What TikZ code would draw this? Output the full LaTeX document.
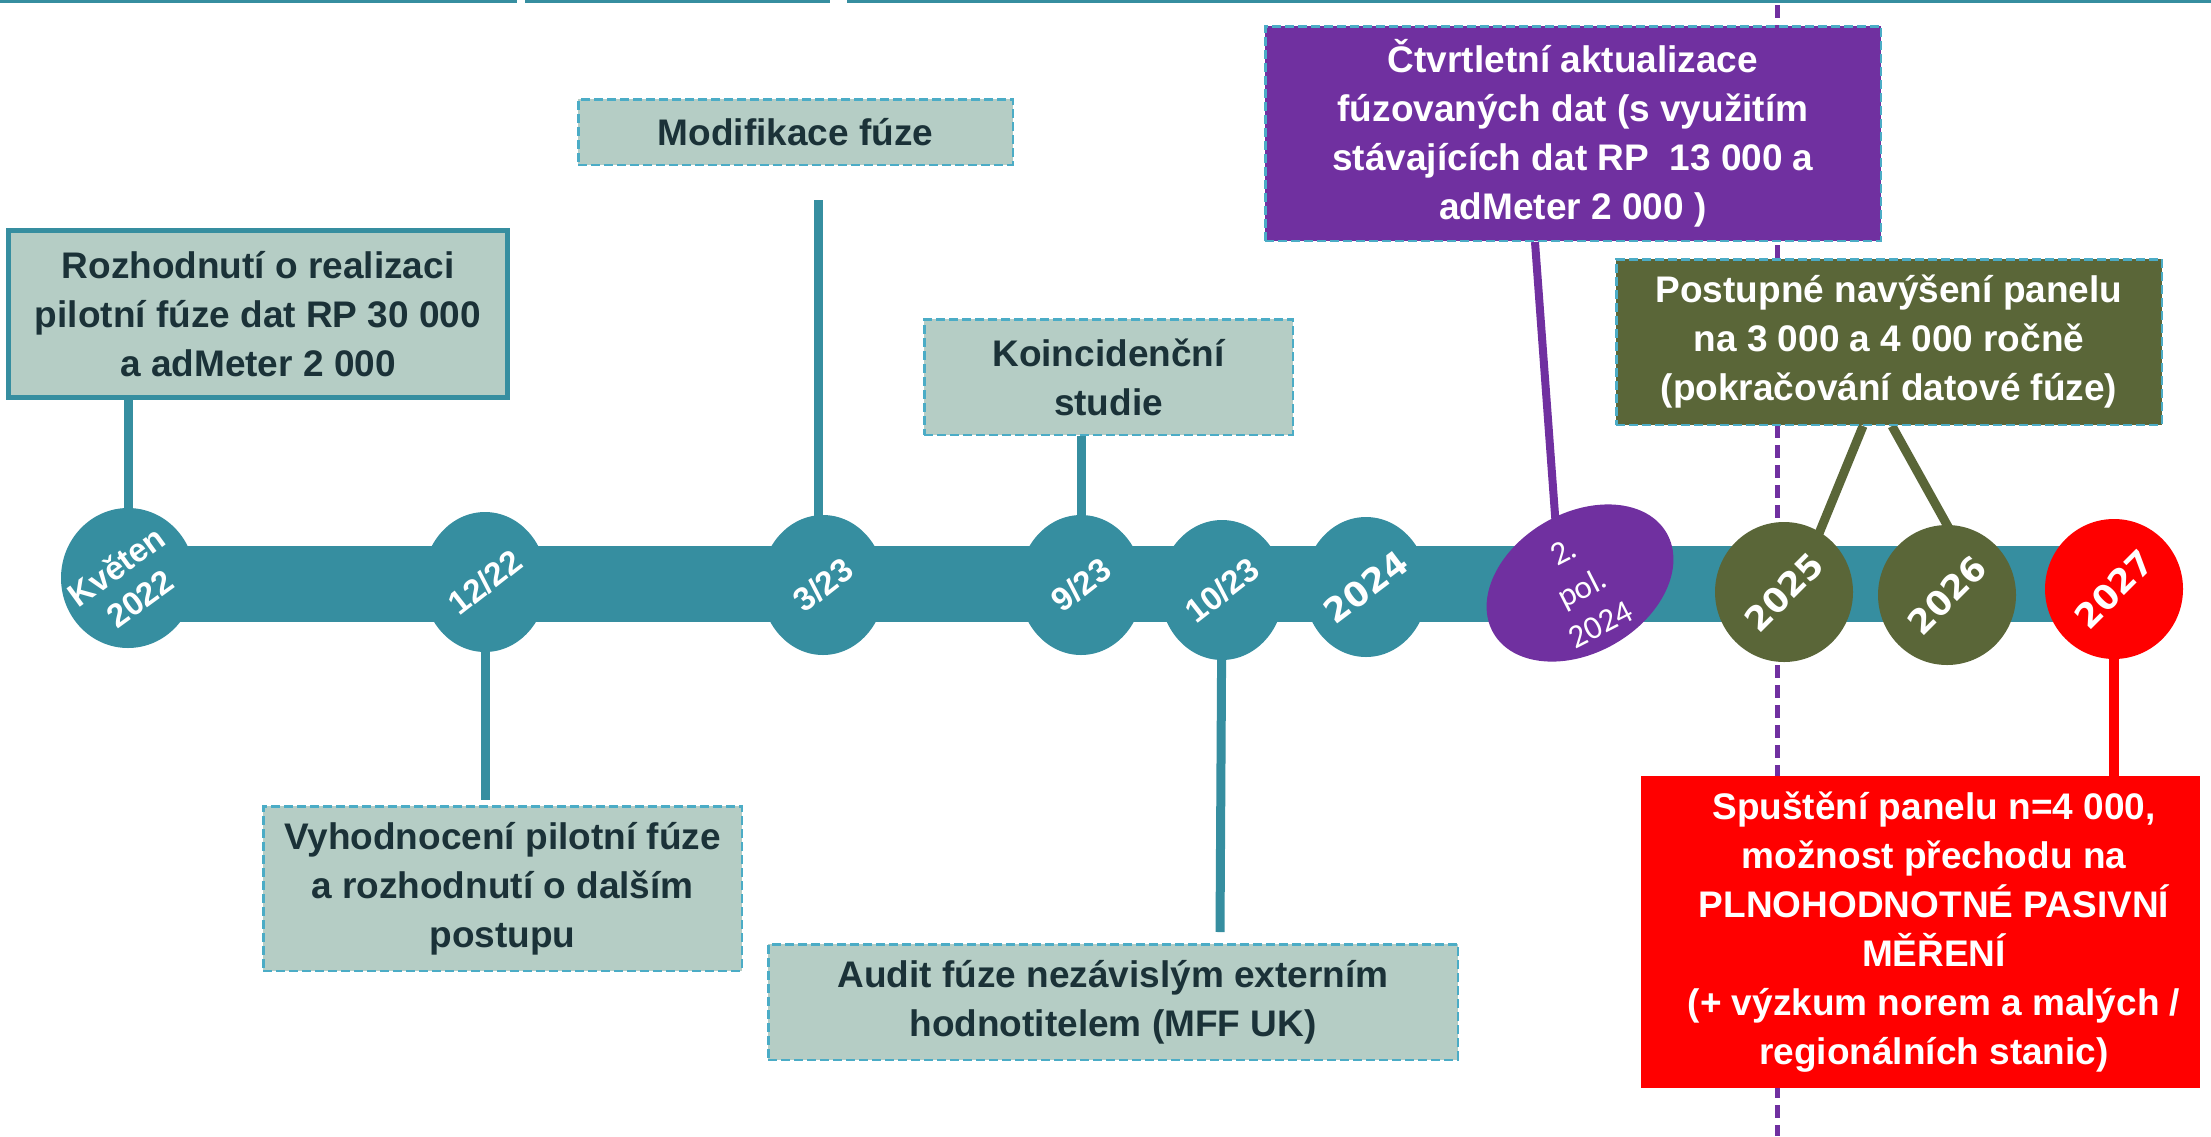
\documentclass[tikz,border=0pt]{standalone}
\usepackage{fontspec}
\setmainfont{Liberation Sans}
\newfontfamily\dvs{DejaVu Sans}
\newfontfamily\carl{Carlito}
\usetikzlibrary{shapes.geometric,calc}
\pgfdeclarelayer{bg}
\pgfsetlayers{bg,main}
\definecolor{mteal}{HTML}{368EA0}
\definecolor{boxfill}{HTML}{B5CDC5}
\definecolor{dtext}{HTML}{1B3238}
\definecolor{dashb}{HTML}{4BACC6}
\definecolor{mpurple}{HTML}{7030A0}
\definecolor{molive}{HTML}{5A6638}
\definecolor{mred}{HTML}{FF0000}
\tikzset{
  boxtext/.style={font=\fontsize{37}{49}\selectfont\bfseries, align=center, inner sep=0pt},
  dashbox/.style={boxtext, draw=dashb, line width=2.5pt, dash pattern=on 9pt off 4pt},
  lightbox/.style={dashbox, fill=boxfill, text=dtext},
  dot/.style={ellipse, inner sep=0pt, minimum height=140pt},
  tealdot/.style={dot, fill=mteal, minimum width=124pt},
  bigdot/.style={dot, minimum width=138pt},
  dotlabel/.style={text=white, align=center, inner sep=0pt,
    font=\fontsize{33}{40}\selectfont\bfseries},
  yearlabel/.style={text=white, inner sep=0pt, font=\dvs\fontsize{34}{40}\selectfont\bfseries},
  tconn/.style={draw=mteal, line width=9pt},
}
\begin{document}
\begin{tikzpicture}[x=1pt,y=-1pt]
\useasboundingbox (0,0) rectangle (2211,1136);

% top rules
\draw[mteal, line width=3pt] (0,1) -- (517,1);
\draw[mteal, line width=3pt] (525,1) -- (830,1);
\draw[mteal, line width=3pt] (847,1) -- (2211,1);

% boxes
\node[boxtext, draw=mteal, line width=5pt, fill=boxfill, text=dtext,
      minimum width=499pt, minimum height=167pt] (rz) at (258,314)
  {Rozhodnutí o realizaci\\pilotní fúze dat RP 30 000\\a adMeter 2 000};
\node[lightbox, minimum width=434.5pt, minimum height=65.5pt] (mo) at (795.5,132)
  {Modifikace fúze};
\node[lightbox, minimum width=368.5pt, minimum height=115.5pt] (ko) at (1108.5,377)
  {Koincidenční\\studie};
\node[dashbox, fill=mpurple, text=white, minimum width=615.5pt, minimum height=214.5pt] (ct) at (1573,133.5)
  {Čtvrtletní aktualizace\\fúzovaných dat (s využitím\\stávajících dat RP\ \ 13 000 a\\adMeter 2 000 )};
\node[dashbox, fill=molive, text=white, minimum width=545.5pt, minimum height=165.5pt] (pt) at (1889,342)
  {Postupné navýšení panelu\\na 3 000 a 4 000 ročně\\(pokračování datové fúze)};
\node[lightbox, minimum width=478.5pt, minimum height=164.5pt] (vy) at (502.5,888.5)
  {Vyhodnocení pilotní fúze\\a rozhodnutí o dalším\\postupu};
\node[lightbox, minimum width=689.5pt, minimum height=115.5pt] (au) at (1113,1002)
  {Audit fúze nezávislým externím\\hodnotitelem (MFF UK)};
\node[fill=mred, inner sep=0pt, minimum width=559pt, minimum height=312pt] (rd) at (1920.5,932) {};
\node[boxtext, text=white] (rdt) at (1934,932)
  {Spuštění panelu n=4 000,\\možnost přechodu na\\PLNOHODNOTNÉ PASIVNÍ\\MĚŘENÍ\\(+ výzkum norem a malých /\\regionálních stanic)};

% timeline dots
\node[tealdot, minimum width=134pt] (c1) at (128,578) {};
\node[tealdot] (c2) at (485,582) {};
\node[tealdot] (c3) at (823,585) {};
\node[tealdot] (c4) at (1081,585) {};
\node[tealdot] (c5) at (1222,590) {};
\node[tealdot] (c6) at (1366,587) {};
\node[dot, fill=mpurple, minimum width=200pt, rotate=30] (c7) at (1580,583) {};
\node[bigdot, fill=molive] (c8) at (1784,592) {};
\node[bigdot, fill=molive] (c9) at (1947,595) {};
\node[bigdot, fill=mred] (c10) at (2114,589) {};

% dot labels
\node[dotlabel, rotate=36] (t1) at (128,582) {Květen\\2022};
\node[dotlabel, rotate=38] (t2) at (c2) {12/22};
\node[dotlabel, rotate=38] (t3) at (c3) {3/23};
\node[dotlabel, rotate=38] (t4) at (c4) {9/23};
\node[dotlabel, rotate=38] (t5) at (c5) {10/23};
\node[yearlabel, rotate=37] (t6) at (c6) {2024};
\node[text=white, align=center, inner sep=0pt, rotate=27,
      font=\carl\fontsize{33}{41}\selectfont] (t7) at (1582,588) {2.\\pol.\\2024};
\node[yearlabel, rotate=45] (t8) at (c8) {2025};
\node[yearlabel, rotate=45] (t9) at (c9) {2026};
\node[yearlabel, rotate=45] (t10) at (c10) {2027};

% background: bar, dashed divider, connectors
\begin{pgfonlayer}{bg}
  \draw[mpurple, line width=5pt, dash pattern=on 13pt off 7pt] (1777,5) -- (1777,1136);
  \fill[mteal] (128,546) rectangle (2114,622);
  \coordinate (m3) at (818,200);
  \coordinate (v2) at (485,800);
  \coordinate (a5) at (1220,932);
  \draw[tconn] (c1.center |- rz.south) -- (c1.center);
  \draw[tconn] (c2.center) -- (v2);
  \draw[tconn] (m3) -- (m3 |- c3.center);
  \draw[tconn] (c4.center |- ko.south) -- (c4.center);
  \draw[tconn] (c5.center) -- (a5);
  \draw[mpurple, line width=8pt] ($(ct.south)+(-38,0)$) -- ($(c7.center)+(-20,0)$);
  \draw[molive, line width=9pt] ($(pt.south)+(-26,0)$) -- ($(c8.center)+(11,0)$);
  \draw[molive, line width=9pt] ($(pt.south)+(3,0)$) -- ($(c9.center)+(39,0)$);
  \draw[mred, line width=10pt] (c10.center) -- (c10.center |- rd.north);
\end{pgfonlayer}
\end{tikzpicture}
\end{document}
